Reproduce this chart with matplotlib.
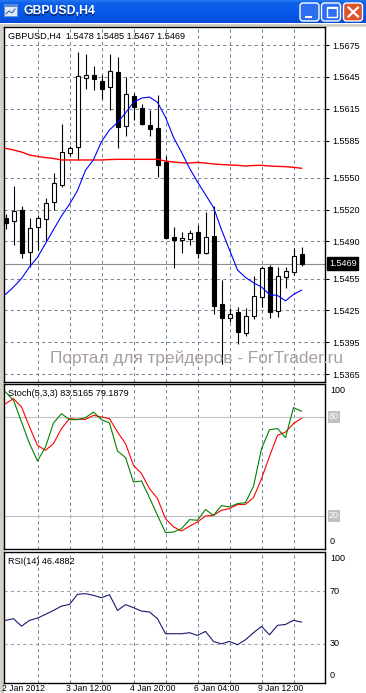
import matplotlib
matplotlib.use('Agg')
import matplotlib.pyplot as plt
from matplotlib.patches import Rectangle, FancyBboxPatch
import numpy as np

W, H = 366, 693

# GBPUSD H4 candles, oldest first
opens = [1.5512, 1.5509, 1.5520, 1.5480, 1.5504, 1.5511, 1.5527, 1.5543, 1.5573, 1.5579,
         1.5644, 1.5647, 1.5641, 1.5635, 1.5650, 1.5599, 1.5627, 1.5616, 1.5600, 1.5597,
         1.5565, 1.5494, 1.5491, 1.5492, 1.5499, 1.5479, 1.5495, 1.5431, 1.5418, 1.5423,
         1.5404, 1.5420, 1.5438, 1.5466, 1.5424, 1.5456, 1.5461, 1.5478]
highs = [1.5516, 1.5542, 1.5523, 1.5512, 1.5515, 1.5531, 1.5554, 1.5601, 1.5580, 1.5668,
         1.5667, 1.5655, 1.5647, 1.5667, 1.5664, 1.5645, 1.5630, 1.5619, 1.5614, 1.5628,
         1.5570, 1.5504, 1.5499, 1.5501, 1.5505, 1.5518, 1.5523, 1.5454, 1.5427, 1.5428,
         1.5427, 1.5457, 1.5467, 1.5468, 1.5466, 1.5466, 1.5484, 1.5485]
lows = [1.5502, 1.5487, 1.5474, 1.5466, 1.5482, 1.5490, 1.5520, 1.5541, 1.5570, 1.5567,
        1.5634, 1.5633, 1.5624, 1.5614, 1.5578, 1.5589, 1.5604, 1.5600, 1.5589, 1.5551,
        1.5492, 1.5465, 1.5479, 1.5487, 1.5474, 1.5478, 1.5422, 1.5374, 1.5414, 1.5393,
        1.5401, 1.5417, 1.5428, 1.5418, 1.5419, 1.5446, 1.5458, 1.5467]
closes = [1.5507, 1.5519, 1.5479, 1.5503, 1.5512, 1.5526, 1.5545, 1.5574, 1.5578, 1.5646,
          1.5647, 1.5643, 1.5634, 1.5651, 1.5598, 1.5629, 1.5617, 1.5601, 1.5596, 1.5562,
          1.5493, 1.5491, 1.5493, 1.5498, 1.5479, 1.5494, 1.5429, 1.5418, 1.5422, 1.5405,
          1.5420, 1.5439, 1.5465, 1.5423, 1.5457, 1.5462, 1.5476, 1.5469]

# moving averages (blue = fast, red = slow)
ma_fast = [1.5440, 1.5447, 1.5455, 1.5466, 1.5475, 1.5488, 1.5501, 1.5514, 1.5525, 1.5538,
           1.5557, 1.5567, 1.5584, 1.5595, 1.5602, 1.5611, 1.5621, 1.5625, 1.5626, 1.5621,
           1.5607, 1.5588, 1.5574, 1.5559, 1.5546, 1.5534, 1.5522, 1.5501, 1.5482, 1.5463,
           1.5456, 1.5451, 1.5447, 1.5440, 1.5439, 1.5434, 1.5440, 1.5444]
ma_slow = [1.55777, 1.55761, 1.55742, 1.55714, 1.55700, 1.55690, 1.55681, 1.55667, 1.55667, 1.55667,
           1.55667, 1.55667, 1.55667, 1.55671, 1.55673, 1.55673, 1.55673, 1.55673, 1.55673, 1.55673,
           1.55657, 1.55648, 1.55641, 1.55638, 1.55645, 1.55638, 1.55629, 1.55624, 1.55620, 1.55617,
           1.55610, 1.55615, 1.55617, 1.55610, 1.55607, 1.55604, 1.55598, 1.55589]

stoch_main = [95.2, 90.1, 77.0, 63.9, 53.4, 61.8, 76.4, 82.0, 78.4, 78.4,
              79.6, 83.0, 78.4, 76.4, 59.4, 55.4, 40.6, 41.2, 31.1, 20.4,
              9.9, 10.3, 12.3, 17.8, 17.4, 23.9, 20.4, 26.3, 25.5, 27.5,
              28.1, 38.0, 60.8, 72.3, 73.0, 67.5, 85.7, 83.5165]
stoch_signal = [88.1, 91.1, 86.1, 74.0, 62.8, 59.8, 63.9, 73.0, 79.0, 78.6,
                78.6, 81.0, 80.0, 79.0, 70.9, 63.9, 50.7, 45.7, 36.6, 30.5,
                18.4, 13.4, 10.9, 13.8, 16.4, 20.0, 20.4, 23.5, 24.5, 26.9,
                27.1, 31.1, 42.6, 56.2, 68.9, 70.9, 76.0, 79.1879]
rsi = [47.8, 49.1, 43.4, 47.8, 49.6, 52.4, 55.4, 58.7, 60.0, 67.7,
       68.2, 66.9, 65.1, 67.4, 55.4, 59.8, 57.5, 54.9, 54.2, 49.1,
       37.6, 37.6, 37.6, 38.4, 36.3, 39.4, 31.7, 29.9, 31.7, 29.2,
       33.0, 38.4, 43.2, 36.8, 44.0, 44.7, 47.8, 46.4882]

price_levels = [1.5675, 1.5645, 1.5615, 1.5585, 1.5550, 1.5520, 1.5490, 1.5455, 1.5425, 1.5395, 1.5365]
last_price = 1.5469
date_labels = ['2 Jan 2012', '3 Jan 12:00', '4 Jan 20:00', '6 Jan 04:00', '9 Jan 12:00']
date_bars = [0, 8, 16, 24, 32]

plt.rcParams['font.family'] = ['Liberation Sans', 'DejaVu Sans']
grid_c = '#778899'
small = 6.6

fig = plt.figure(figsize=(W / 100, H / 100), dpi=100)
fig.patch.set_facecolor('white')


def ftext(x, y, s, **kw):
    return fig.text(x / W, 1 - y / H, s, **kw)


# window chrome drawn in pixel coordinates
bg = fig.add_axes([0, 0, 1, 1])
bg.set_xlim(0, W)
bg.set_ylim(H, 0)
bg.axis('off')

keys = np.array([[0x2a, 0x7c, 0xf0], [0x0c, 0x60, 0xea], [0x05, 0x56, 0xe6], [0x04, 0x4c, 0xd4]]) / 255
pos = np.array([0, 4, 18, 23])
rows = np.arange(24)
grad = np.stack([np.interp(rows, pos, keys[:, c]) for c in range(3)], axis=1)
bg.imshow(grad[:, None, :], extent=(0, W, 23.5, 0), aspect='auto', zorder=0)
bg.add_patch(Rectangle((0, 23.5), W, 3.5, facecolor='#d4d0c8', edgecolor='none'))
bg.add_patch(Rectangle((0, 23.5), 3.5, H, facecolor='#d4d0c8', edgecolor='none'))

# icon
bg.add_patch(Rectangle((4, 4), 13, 12, facecolor='#dfe9f7', edgecolor='#6f93c8', lw=0.6))
bg.add_patch(Rectangle((4, 4), 13, 3, facecolor='#5a8ad8', edgecolor='none'))
bg.plot([6, 9, 12, 15], [14, 11, 13, 9], color='#2a56a8', lw=0.7)

bg.text(24, 12.5, 'GBPUSD,H4', color='#0a2a80', fontsize=8.8, fontweight='bold', va='center')
bg.text(23, 11.5, 'GBPUSD,H4', color='white', fontsize=8.8, fontweight='bold', va='center')

# title buttons
for x0, fc in [(300, '#2d6ff0'), (321.5, '#2d6ff0'), (343.5, '#e0542c')]:
    bg.add_patch(FancyBboxPatch((x0, 3), 19, 18, boxstyle='round,pad=0,rounding_size=3',
                                facecolor=fc, edgecolor='white', lw=1.0))
bg.add_patch(Rectangle((305, 15.5), 7, 2.5, facecolor='white', edgecolor='none'))
bg.add_patch(Rectangle((326.5, 7), 10, 10, facecolor='none', edgecolor='white', lw=1.0))
bg.add_patch(Rectangle((326.5, 7), 10, 2, facecolor='white', edgecolor='none'))
bg.plot([348.5, 358], [7.5, 16.5], color='white', lw=1.6)
bg.plot([348.5, 358], [16.5, 7.5], color='white', lw=1.6)


def panel(y0, y1):
    ax = fig.add_axes([4 / W, 1 - y1 / H, 321 / W, (y1 - y0) / H])
    ax.set_xlim(-0.1875, 39.9375)
    for s in ax.spines.values():
        s.set_linewidth(1.0)
        s.set_color('black')
    ax.set_xticks(range(4, 37, 4))
    ax.tick_params(axis='x', length=0, labelbottom=False)
    ax.grid(axis='x', color=grid_c, linestyle=(0, (3, 3)), linewidth=0.75)
    ax.set_axisbelow(True)
    return ax


x = np.arange(len(opens))

# main price chart
ax = panel(27, 382)
ax.set_ylim(1.53575, 1.56920)
ax.set_yticks(price_levels)
ax.set_yticklabels(['%.4f' % p for p in price_levels])
ax.yaxis.tick_right()
ax.tick_params(axis='y', direction='out', length=3, width=0.75, pad=2, labelsize=6.5)
ax.grid(axis='y', color=grid_c, linestyle=(0, (3, 3)), linewidth=0.75)
ax.axhline(last_price, color='#8c8c8c', lw=0.8, zorder=1)

for i in x:
    ax.vlines(i, lows[i], highs[i], color='black', lw=0.8, zorder=2)
    up = closes[i] >= opens[i]
    b0 = min(opens[i], closes[i])
    h = max(abs(closes[i] - opens[i]), 0.00002)
    ax.add_patch(Rectangle((i - 0.25, b0), 0.5, h, facecolor='white' if up else 'black',
                           edgecolor='black', lw=0.8, zorder=3))

ax.plot(x, ma_slow, color='#ff0000', lw=1.0, zorder=4)
ax.plot(x, ma_fast, color='#0000ff', lw=0.8, zorder=4)
ax.annotate('%.4f' % last_price, xy=(1, last_price), xycoords=('axes fraction', 'data'),
            xytext=(4, 0), textcoords='offset pixels', va='center', ha='left', color='white',
            fontsize=6.5, annotation_clip=False,
            bbox=dict(boxstyle='square,pad=0.2', fc='black', ec='black'))

ftext(8, 36, 'GBPUSD,H4  %.4f %.4f %.4f %.4f' % (opens[-1], highs[-1], lows[-1], closes[-1]),
      fontsize=small, va='center')

# stochastic
ax2 = panel(384, 549)
ax2.set_ylim(0, 100)
ax2.set_yticks([])
ax2.axhline(80, color='#c0c0c0', lw=0.8, zorder=1)
ax2.axhline(20, color='#c0c0c0', lw=0.8, zorder=1)
ax2.plot(x, stoch_signal, color='#ff0000', lw=0.8, zorder=3)
ax2.plot(x, stoch_main, color='#008000', lw=0.8, zorder=3)
ftext(8, 393, 'Stoch(5,3,3) %.4f %.4f' % (stoch_main[-1], stoch_signal[-1]), fontsize=small, va='center')
ftext(330, 390.5, '100', fontsize=6.5, va='center')
ftext(330, 542, '0', fontsize=6.5, va='center')
for lv, yy in [(80, 416.7), (20, 516)]:
    ftext(329, yy, str(lv), fontsize=6.5, va='center', color='white',
          bbox=dict(boxstyle='square,pad=0.15', fc='#c0c0c0', ec='none'))

# RSI
ax3 = panel(552, 683)
ax3.set_ylim(0, 100)
ax3.set_yticks([])
ax3.axhline(70, color='#a0a0a0', lw=0.75, linestyle=(0, (3, 3)), zorder=1)
ax3.axhline(30, color='#a0a0a0', lw=0.75, linestyle=(0, (3, 3)), zorder=1)
ax3.plot(x, rsi, color='#191970', lw=0.8, zorder=3)
ftext(8, 561, 'RSI(14) %.4f' % rsi[-1], fontsize=small, va='center')
for s, yy in [('100', 558.5), ('70', 591), ('30', 643.5), ('0', 676)]:
    ftext(330, yy, s, fontsize=6.5, va='center')

for b, s in zip(date_bars, date_labels):
    ftext(5.5 + 8 * b - 3, 691, s, fontsize=6.2, va='baseline')

# watermark
ftext(50, 363, 'Портал для трейдеров - ForTrader.ru', fontsize=12.4, color='#a89e9e', va='baseline')

fig.savefig('out.png', dpi=100)
